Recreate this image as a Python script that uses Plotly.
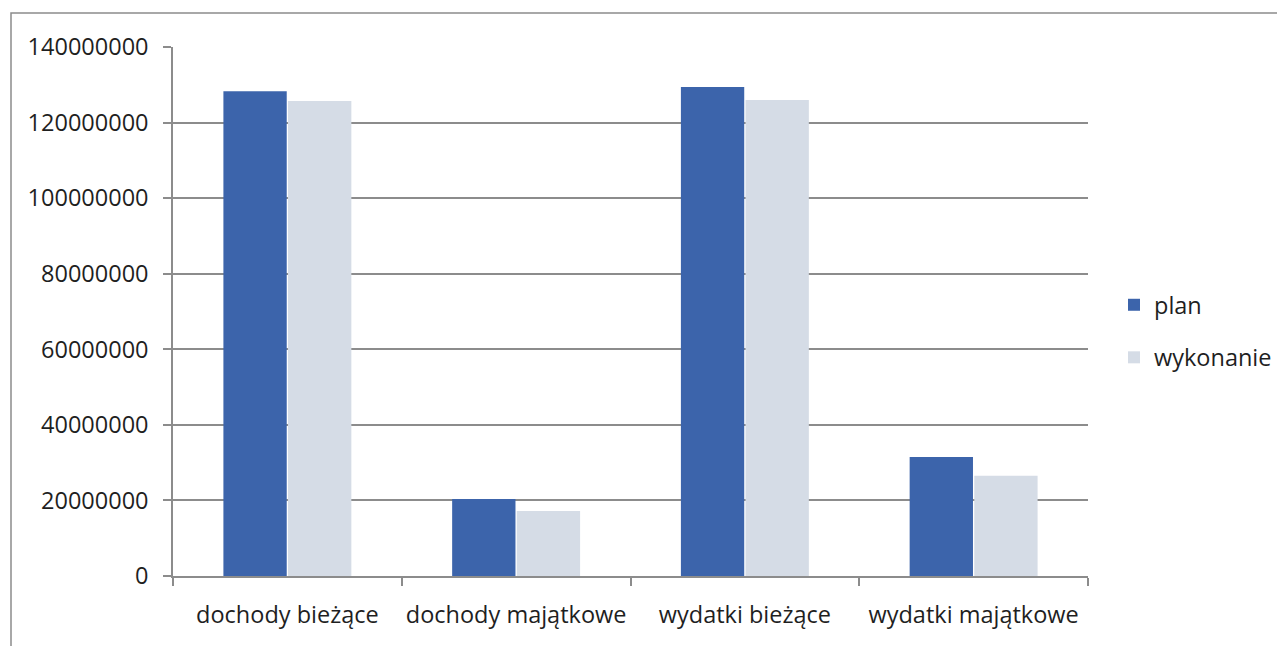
import plotly.graph_objects as go

categories = ["dochody bieżące", "dochody majątkowe", "wydatki bieżące", "wydatki majątkowe"]
plan = [128300000, 20400000, 129400000, 31500000]
wykonanie = [125700000, 17200000, 126000000, 26500000]
y_ticks = [0, 20000000, 40000000, 60000000, 80000000, 100000000, 120000000, 140000000]

# page has an 8px body margin; figure coords = picture coords - 8
OFF = 8
W, H = 1285 - OFF, 646 - OFF
L, T = 173 - OFF, 47 - OFF
R = W - (1088 - OFF)
B = H - (576 - OFF)
pw, ph = W - L - R, H - T - B

FONT = "Liberation Sans Narrow, Arial Narrow, Open Sans, sans-serif"
TXT = "#1f1f1f"
FS = 23.5

def px_x(px):
    return (px - OFF - L) / pw

def px_y(py):
    return (H - B - (py - OFF)) / ph

fig = go.Figure()
fig.add_trace(go.Bar(name="plan", x=categories, y=plan, legendgroup="a",
                     marker=dict(color="#3C64AB", line=dict(width=0))))
fig.add_trace(go.Bar(name="wykonanie", x=categories, y=wykonanie, legendgroup="b",
                     marker=dict(color="#D5DCE6", line=dict(width=0))))

# outer chart border (partially visible)
fig.add_shape(type="rect", xref="paper", yref="paper",
              x0=px_x(11), x1=px_x(1320),
              y0=px_y(700), y1=px_y(13),
              line=dict(color="#8C8C8C", width=1.5), fillcolor="rgba(0,0,0,0)", layer="below")

fig.update_layout(
    width=W, height=H,
    margin=dict(l=L, r=R, t=T, b=B, pad=0, autoexpand=False),
    paper_bgcolor="white", plot_bgcolor="white",
    barmode="group", bargap=0.435, bargroupgap=0.02,
    font=dict(family=FONT, size=FS, color=TXT),
    showlegend=True,
    legend=dict(x=px_x(1114), y=px_y(283), xanchor="left", yanchor="top",
                font=dict(family=FONT, size=FS, color=TXT),
                itemwidth=30, tracegroupgap=19, bgcolor="rgba(0,0,0,0)"),
    xaxis=dict(showline=True, linecolor="#8C8C8C", linewidth=1.5,
               ticks="outside", ticklen=8, tickcolor="#8C8C8C", tickwidth=1.5,
               tickson="boundaries", showgrid=False, tickangle=0, automargin=False,
               ticklabelstandoff=17,
               tickfont=dict(family=FONT, size=FS, color=TXT)),
    yaxis=dict(range=[0, 140000000], tickvals=y_ticks, ticktext=[str(v) for v in y_ticks],
               showline=True, linecolor="#8C8C8C", linewidth=1.5,
               ticks="outside", ticklen=8, tickcolor="#8C8C8C", tickwidth=1.5,
               showgrid=True, gridcolor="#8C8C8C", gridwidth=1.5, zeroline=False,
               automargin=False, ticklabelstandoff=10,
               tickfont=dict(family=FONT, size=FS, color=TXT)),
)

fig.write_html("out.html")
